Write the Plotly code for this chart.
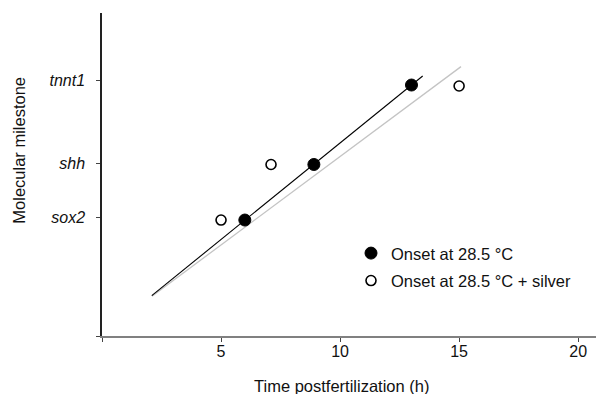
import plotly.graph_objects as go

# Milestone tick positions (arbitrary vertical scale)
milestones = ["sox2", "shh", "tnnt1"]
milestone_pos = [36.6, 53.4, 79.0]

# Onset at 28.5 °C (filled)
onset_x = [6.0, 8.9, 13.0]
onset_y = [35.9, 53.1, 77.7]

# Onset at 28.5 °C + silver (open)
silver_x = [5.0, 7.1, 15.0]
silver_y = [35.9, 53.1, 77.4]

# Fit lines (endpoints)
fit_black_x = [2.09, 13.47]
fit_black_y = [12.5, 80.5]
fit_gray_x = [2.1, 15.08]
fit_gray_y = [12.3, 83.4]

x_ticks = [0, 5, 10, 15, 20]
x_ticktext = ["", "5", "10", "15", "20"]

FONT = "Liberation Sans, Arial, sans-serif"

fig = go.Figure()
fig.add_trace(go.Scatter(x=fit_gray_x, y=fit_gray_y, mode="lines",
                         line=dict(color="#c4c4c4", width=1.3), showlegend=False, hoverinfo="skip"))
fig.add_trace(go.Scatter(x=fit_black_x, y=fit_black_y, mode="lines",
                         line=dict(color="#000000", width=1.1), showlegend=False, hoverinfo="skip"))
fig.add_trace(go.Scatter(x=onset_x, y=onset_y, mode="markers", name="Onset at 28.5 °C",
                         legendgroup="a",
                         marker=dict(size=12, color="black", line=dict(color="black", width=1))))
fig.add_trace(go.Scatter(x=silver_x, y=silver_y, mode="markers", name="Onset at 28.5 °C + silver",
                         legendgroup="b",
                         marker=dict(size=10, color="white", line=dict(color="black", width=1.6))))

fig.update_layout(
    width=596, height=394,
    margin=dict(l=102, r=0, t=13, b=58, autoexpand=False),
    plot_bgcolor="white", paper_bgcolor="white",
    font=dict(family=FONT, size=16, color="#111111"),
    legend=dict(x=(351 - 102) / 494, y=0.31, xanchor="left", yanchor="top",
                bgcolor="rgba(0,0,0,0)", tracegroupgap=3,
                font=dict(size=16.5), itemwidth=30),
    xaxis=dict(range=[0, 20.75], tickvals=x_ticks, ticktext=x_ticktext,
               showline=True, linecolor="#808080", linewidth=2,
               ticks="outside", ticklen=4, tickcolor="#444444", tickwidth=1,
               showgrid=False, zeroline=False, tickfont=dict(size=16), automargin=False,
               ticklabelstandoff=-4),
    yaxis=dict(range=[0, 100], tickvals=[0] + milestone_pos,
               ticktext=[""] + ["<i>%s</i>" % m for m in milestones],
               showline=True, linecolor="#222222", linewidth=1.5,
               ticks="outside", ticklen=4, tickcolor="#444444", tickwidth=1,
               showgrid=False, zeroline=False, tickfont=dict(size=16),
               ticklabelstandoff=8, automargin=False),
    annotations=[
        dict(text="Time postfertilization (h)", xref="paper", yref="paper",
             x=(341.7 - 102) / 494, y=-(386 - 336) / 323, xanchor="center", yanchor="middle",
             showarrow=False, font=dict(size=16.5)),
        dict(text="Molecular milestone", xref="paper", yref="paper",
             x=-(102 - 19) / 494, y=(336 - 150.7) / 323, xanchor="center", yanchor="middle",
             textangle=-90, showarrow=False, font=dict(size=16.5)),
    ],
)

fig.write_html("out.html", config={"displayModeBar": False},
               post_script="document.body.style.margin='0';document.body.style.padding='0';")
